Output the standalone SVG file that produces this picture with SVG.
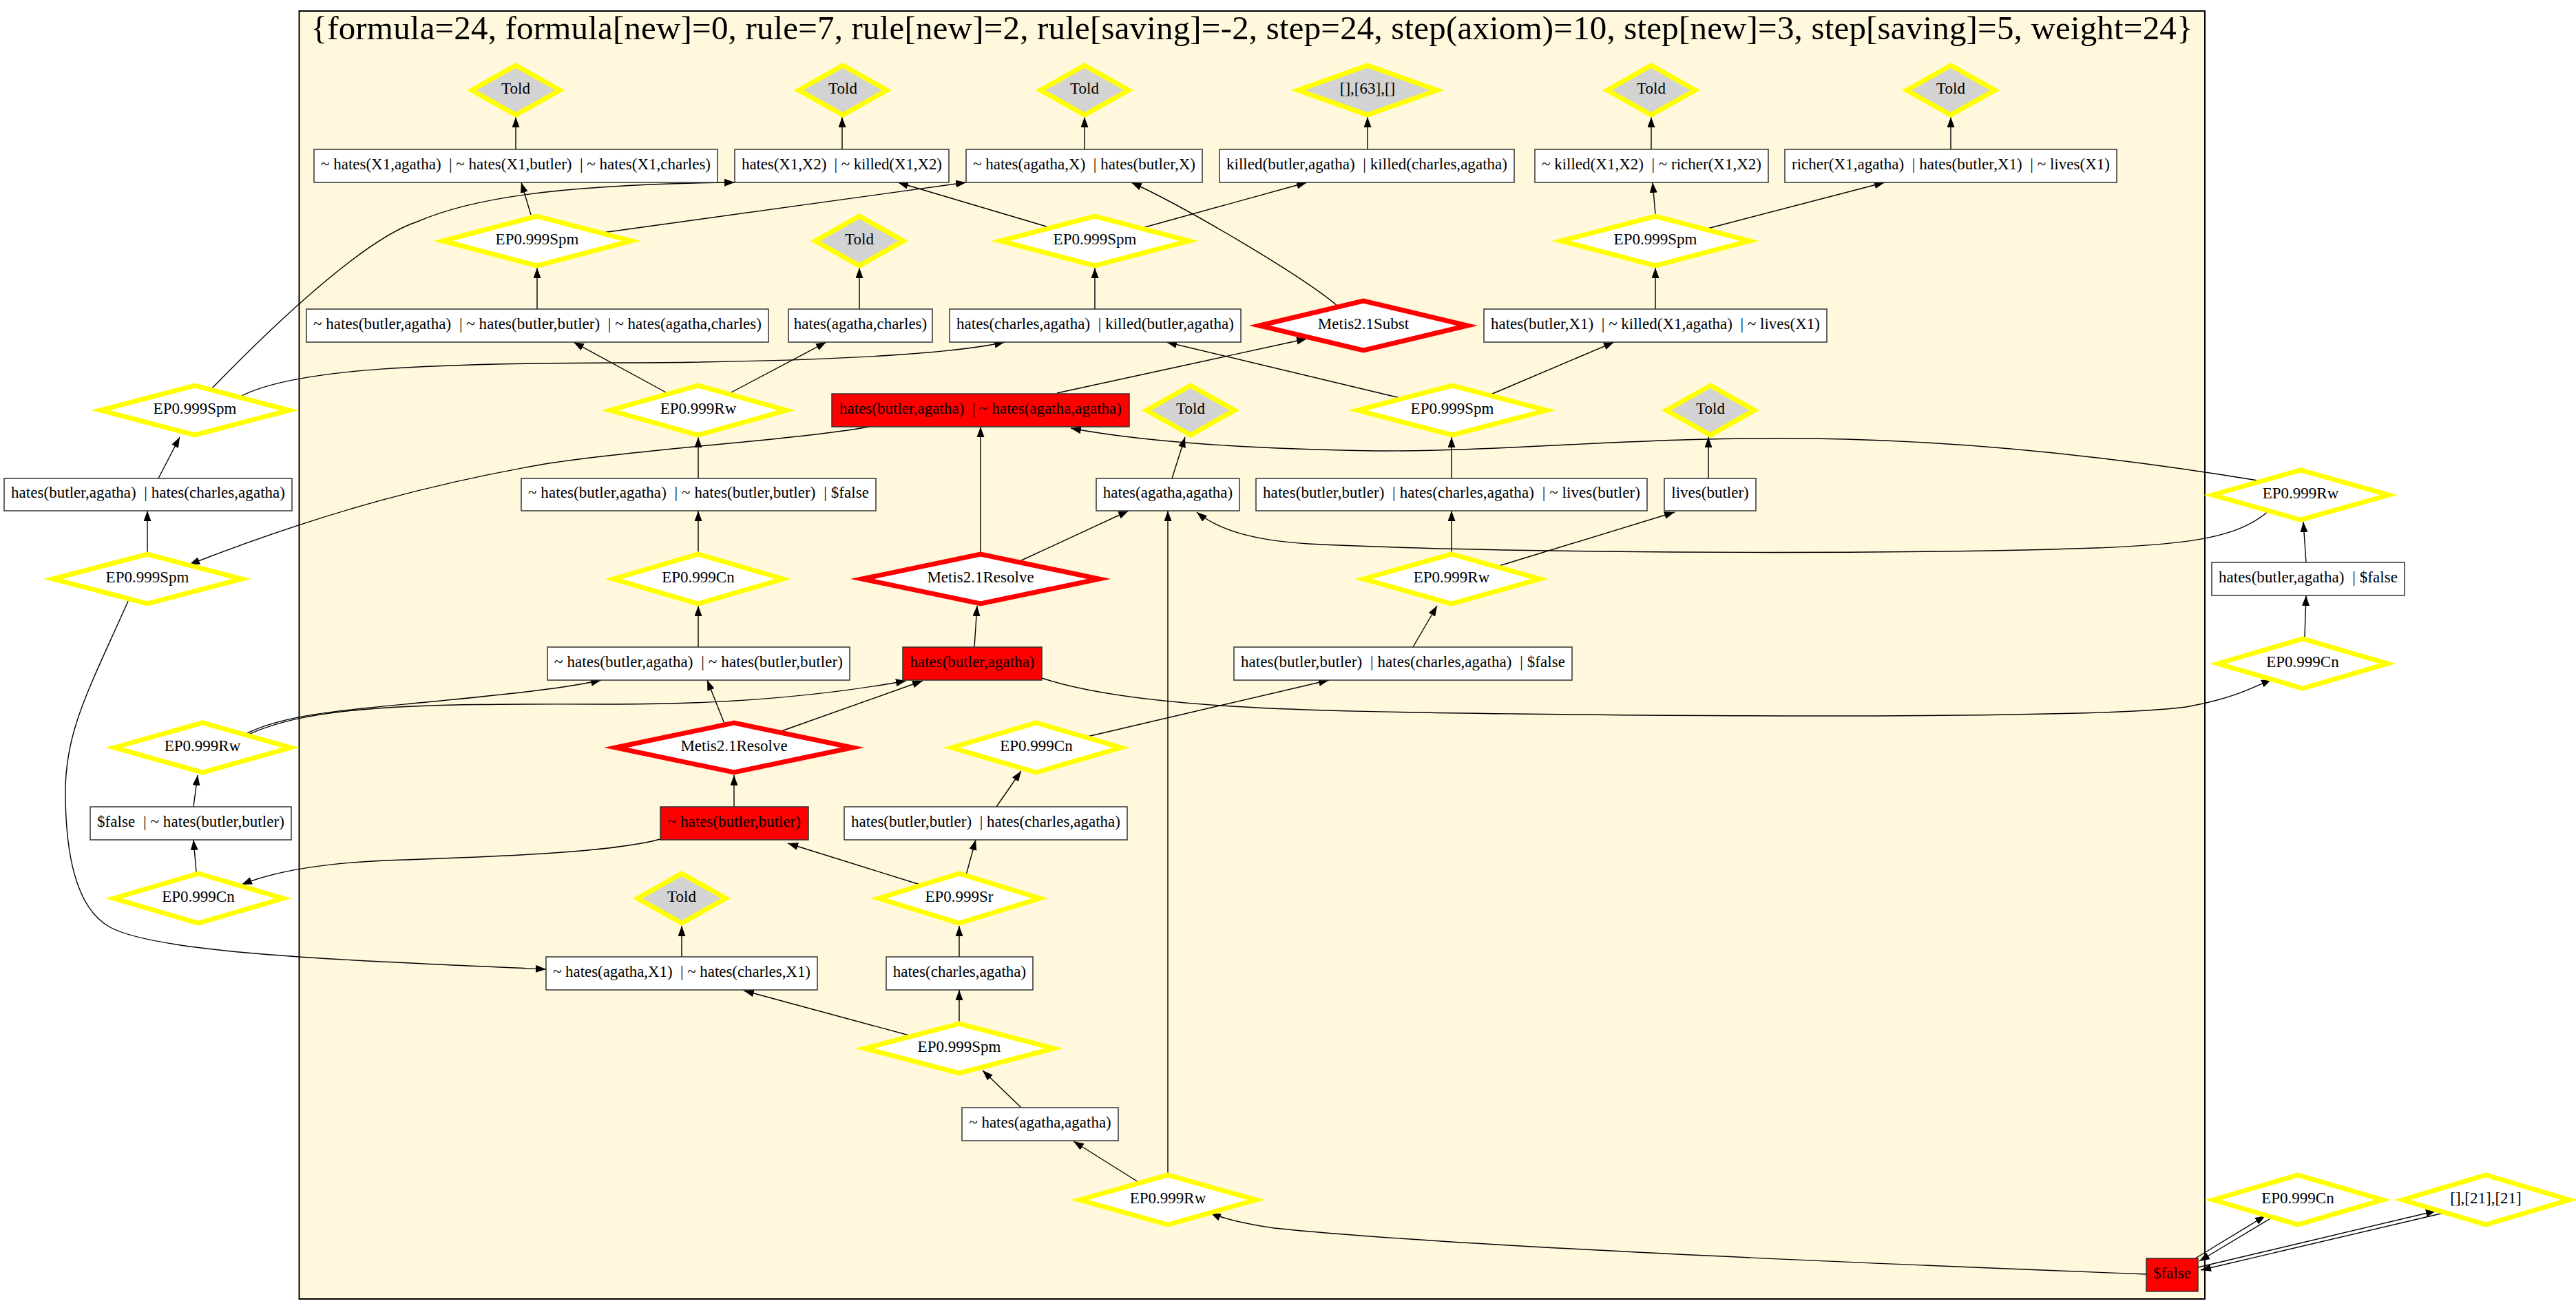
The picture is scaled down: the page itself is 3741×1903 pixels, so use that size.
<svg xmlns="http://www.w3.org/2000/svg" width="3741" height="1903" viewBox="0 0 3741 1903">
<style>
.bx{fill:#fff;stroke:#333;stroke-width:1.5}
.rd{fill:#f00;stroke:#333;stroke-width:1.5}
.dy{fill:#fff;stroke:#ff0;stroke-width:7;stroke-miterlimit:10}
.dg{fill:#d3d3d3;stroke:#ff0;stroke-width:7;stroke-miterlimit:10}
.dr{fill:#fff;stroke:#f00;stroke-width:7;stroke-miterlimit:10}
text{font-family:"Liberation Serif","Times New Roman",serif;font-size:23px;text-anchor:middle;fill:#000;white-space:pre}
.e{fill:none;stroke:#000;stroke-width:1.4;marker-end:url(#ah)}
</style>
<defs>
<marker id="ah" markerUnits="userSpaceOnUse" markerWidth="15" markerHeight="11" refX="15" refY="5.5" orient="auto"><path d="M0,0 L15,5.5 L0,11 z" fill="#000"/></marker>
</defs>
<rect width="3741" height="1903" fill="#fff"/>
<g id="cluster">
<rect x="434.5" y="16" width="2767.5" height="1871" fill="#fff8dc" stroke="#000" stroke-width="2"/>
<text x="1818" y="57" style="font-size:49px" textLength="2733" lengthAdjust="spacing">{formula=24, formula[new]=0, rule=7, rule[new]=2, rule[saving]=-2, step=24, step(axiom)=10, step[new]=3, step[saving]=5, weight=24}</text>
</g>
<g id="edges">
<path class="e" d="M749,217 L749,170"/>
<path class="e" d="M1223,217 L1223,170"/>
<path class="e" d="M1575,217 L1575,170"/>
<path class="e" d="M1986,217 L1986,170"/>
<path class="e" d="M2398,217 L2398,170"/>
<path class="e" d="M2833,217 L2833,170"/>
<path class="e" d="M771,312 L757,265"/>
<path class="e" d="M875,338 L1403,265"/>
<path class="e" d="M308,564 C370,500 520,350 606,322 C680,290 800,268 1067,265"/>
<path class="e" d="M1523,330 L1304,265"/>
<path class="e" d="M1659,331 L1898,265"/>
<path class="e" d="M1590,449 L1590,389"/>
<path class="e" d="M1248,449 L1248,389"/>
<path class="e" d="M1942,444 C1890,400 1720,300 1643,265"/>
<path class="e" d="M2404,311 L2400,265"/>
<path class="e" d="M2476,333 L2737,265"/>
<path class="e" d="M2404,449 L2404,389"/>
<path class="e" d="M780,449 L780,389"/>
<path class="e" d="M969,571 L833,497"/>
<path class="e" d="M1060,571 L1200,497"/>
<path class="e" d="M351,575 C430,535 620,528 900,527 S1380,515 1459,497"/>
<path class="e" d="M1535,571 L1898,492"/>
<path class="e" d="M2033,578 L1694,497"/>
<path class="e" d="M2165,573 L2344,497"/>
<path class="e" d="M214,802 L214,742"/>
<path class="e" d="M230,695 L261,635"/>
<path class="e" d="M1262,620 C1150,640 950,650 797,673 C640,700 480,740 275,820"/>
<path class="e" d="M1014,695 L1014,635"/>
<path class="e" d="M1014,802 L1014,742"/>
<path class="e" d="M1014,940 L1014,880"/>
<path class="e" d="M1052,1051 L1027,988"/>
<path class="e" d="M1132,1063 L1340,989"/>
<path class="e" d="M359,1065 C420,1035 520,1030 640,1018 C740,1008 820,1000 873,988"/>
<path class="e" d="M359,1068 C450,1025 600,1022 877,1023 C1050,1024 1200,1010 1316,989"/>
<path class="e" d="M1424,802 L1424,620"/>
<path class="e" d="M1479,816 L1639,742"/>
<path class="e" d="M1415,940 L1419,880"/>
<path class="e" d="M1702,695 L1721,635"/>
<path class="e" d="M3279,698 C3200,685 2950,645 2680,638 C2410,631 2200,656 2000,655 C1800,652 1650,640 1555,622"/>
<path class="e" d="M3295,742 C3240,790 3150,795 2890,800 C2500,806 2100,800 1900,790 C1820,785 1770,770 1738,744"/>
<path class="e" d="M2108,802 L2108,742"/>
<path class="e" d="M2108,695 L2108,635"/>
<path class="e" d="M2177,822 L2432,744"/>
<path class="e" d="M2481,695 L2481,635"/>
<path class="e" d="M2052,940 L2087,880"/>
<path class="e" d="M1513,985 C1650,1030 1900,1033 2200,1037 C2700,1043 3100,1040 3180,1026 C3240,1015 3270,1000 3299,987"/>
<path class="e" d="M1575,1071 L1930,988"/>
<path class="e" d="M1447,1172 L1483,1120"/>
<path class="e" d="M3347,925 L3349,865"/>
<path class="e" d="M3349,817 L3345,758"/>
<path class="e" d="M281,1172 L287,1126"/>
<path class="e" d="M285,1266 L281,1220"/>
<path class="e" d="M959,1219 C880,1240 700,1245 560,1250 C470,1254 400,1265 351,1285"/>
<path class="e" d="M1066,1172 L1066,1126"/>
<path class="e" d="M1336,1285 L1144,1225"/>
<path class="e" d="M1403,1271 L1417,1220"/>
<path class="e" d="M1393,1390 L1393,1345"/>
<path class="e" d="M1393,1484 L1393,1438"/>
<path class="e" d="M1324,1505 L1080,1439"/>
<path class="e" d="M990,1390 L990,1345"/>
<path class="e" d="M187,871 C130,1000 95,1060 95,1150 C95,1240 110,1320 160,1347 C230,1385 500,1395 793,1408"/>
<path class="e" d="M1483,1609 L1427,1555"/>
<path class="e" d="M1653,1717 L1559,1658"/>
<path class="e" d="M1696,1704 L1696,742"/>
<path class="e" d="M3117,1851 C2700,1835 2100,1810 1850,1784 C1810,1778 1780,1772 1758,1762"/>
<path class="e" d="M3188,1828 L3290,1766"/>
<path class="e" d="M3299,1769 L3194,1832"/>
<path class="e" d="M3192,1841 L3538,1759"/>
<path class="e" d="M3549,1762 L3196,1845"/>
</g>
<g id="told1"><polygon class="dg" points="685,131 749,95 813,131 749,167"/><text x="749" y="136">Told</text></g>
<g id="told2"><polygon class="dg" points="1160,131 1224,95 1288,131 1224,167"/><text x="1224" y="136">Told</text></g>
<g id="told3"><polygon class="dg" points="1511,131 1575,95 1639,131 1575,167"/><text x="1575" y="136">Told</text></g>
<g id="told4"><polygon class="dg" points="2334,131 2398,95 2462,131 2398,167"/><text x="2398" y="136">Told</text></g>
<g id="told5"><polygon class="dg" points="2769,131 2833,95 2897,131 2833,167"/><text x="2833" y="136">Told</text></g>
<g id="told6"><polygon class="dg" points="1184,350 1248,314 1312,350 1248,386"/><text x="1248" y="355">Told</text></g>
<g id="told7"><polygon class="dg" points="1665,596 1729,560 1793,596 1729,632"/><text x="1729" y="601">Told</text></g>
<g id="told8"><polygon class="dg" points="2420,596 2484,560 2548,596 2484,632"/><text x="2484" y="601">Told</text></g>
<g id="told9"><polygon class="dg" points="926,1305 990,1269 1054,1305 990,1341"/><text x="990" y="1310">Told</text></g>
<g id="ref63"><polygon class="dg" points="1885,131 1986,95 2087,131 1986,167"/><text x="1986" y="136">[],[63],[]</text></g>
<g id="spm1"><polygon class="dy" points="643,350 780,314 917,350 780,386"/><text x="780" y="355">EP0.999Spm</text></g>
<g id="spm2"><polygon class="dy" points="1453,350 1590,314 1727,350 1590,386"/><text x="1590" y="355">EP0.999Spm</text></g>
<g id="spm3"><polygon class="dy" points="2267,350 2404,314 2541,350 2404,386"/><text x="2404" y="355">EP0.999Spm</text></g>
<g id="spm4"><polygon class="dy" points="146,596 283,560 420,596 283,632"/><text x="283" y="601">EP0.999Spm</text></g>
<g id="spm5"><polygon class="dy" points="1972,596 2109,560 2246,596 2109,632"/><text x="2109" y="601">EP0.999Spm</text></g>
<g id="spm6"><polygon class="dy" points="77,841 214,805 351,841 214,877"/><text x="214" y="846">EP0.999Spm</text></g>
<g id="spm7"><polygon class="dy" points="1256,1523 1393,1487 1530,1523 1393,1559"/><text x="1393" y="1528">EP0.999Spm</text></g>
<g id="rw1"><polygon class="dy" points="886,596 1014,560 1142,596 1014,632"/><text x="1014" y="601">EP0.999Rw</text></g>
<g id="rw2"><polygon class="dy" points="1980,841 2108,805 2236,841 2108,877"/><text x="2108" y="846">EP0.999Rw</text></g>
<g id="rw3"><polygon class="dy" points="3213,719 3341,683 3469,719 3341,755"/><text x="3341" y="724">EP0.999Rw</text></g>
<g id="rw4"><polygon class="dy" points="166,1086 294,1050 422,1086 294,1122"/><text x="294" y="1091">EP0.999Rw</text></g>
<g id="rw5"><polygon class="dy" points="1568,1743 1696,1707 1824,1743 1696,1779"/><text x="1696" y="1748">EP0.999Rw</text></g>
<g id="cn1"><polygon class="dy" points="891,841 1014,805 1137,841 1014,877"/><text x="1014" y="846">EP0.999Cn</text></g>
<g id="cn2"><polygon class="dy" points="3221,964 3344,928 3467,964 3344,1000"/><text x="3344" y="969">EP0.999Cn</text></g>
<g id="cn3"><polygon class="dy" points="1382,1086 1505,1050 1628,1086 1505,1122"/><text x="1505" y="1091">EP0.999Cn</text></g>
<g id="cn4"><polygon class="dy" points="165,1305 288,1269 411,1305 288,1341"/><text x="288" y="1310">EP0.999Cn</text></g>
<g id="cn5"><polygon class="dy" points="3214,1743 3337,1707 3460,1743 3337,1779"/><text x="3337" y="1748">EP0.999Cn</text></g>
<g id="sr1"><polygon class="dy" points="1276,1305 1393,1269 1510,1305 1393,1341"/><text x="1393" y="1310">EP0.999Sr</text></g>
<g id="subst"><polygon class="dr" points="1829,473 1980,437 2131,473 1980,509"/><text x="1980" y="478">Metis2.1Subst</text></g>
<g id="resolve1"><polygon class="dr" points="1252,841 1424,805 1596,841 1424,877"/><text x="1424" y="846">Metis2.1Resolve</text></g>
<g id="resolve2"><polygon class="dr" points="894,1086 1066,1050 1238,1086 1066,1122"/><text x="1066" y="1091">Metis2.1Resolve</text></g>
<g id="ref21"><polygon class="dy" points="3489,1743 3610,1707 3731,1743 3610,1779"/><text x="3610" y="1748">[],[21],[21]</text></g>
<g id="a1"><rect class="bx" x="456" y="217" width="586" height="48"/><text x="749" y="246" textLength="566" lengthAdjust="spacing">~ hates(X1,agatha)  | ~ hates(X1,butler)  | ~ hates(X1,charles)</text></g>
<g id="a2"><rect class="bx" x="1067" y="217" width="311" height="48"/><text x="1222.5" y="246" textLength="291" lengthAdjust="spacing">hates(X1,X2)  | ~ killed(X1,X2)</text></g>
<g id="a3"><rect class="bx" x="1403" y="217" width="343" height="48"/><text x="1574.5" y="246" textLength="323" lengthAdjust="spacing">~ hates(agatha,X)  | hates(butler,X)</text></g>
<g id="a4"><rect class="bx" x="1771" y="217" width="428" height="48"/><text x="1985" y="246" textLength="408" lengthAdjust="spacing">killed(butler,agatha)  | killed(charles,agatha)</text></g>
<g id="a5"><rect class="bx" x="2229" y="217" width="339" height="48"/><text x="2398.5" y="246" textLength="319" lengthAdjust="spacing">~ killed(X1,X2)  | ~ richer(X1,X2)</text></g>
<g id="a6"><rect class="bx" x="2592" y="217" width="482" height="48"/><text x="2833" y="246" textLength="462" lengthAdjust="spacing">richer(X1,agatha)  | hates(butler,X1)  | ~ lives(X1)</text></g>
<g id="b1"><rect class="bx" x="445" y="449" width="671" height="48"/><text x="780.5" y="478" textLength="651" lengthAdjust="spacing">~ hates(butler,agatha)  | ~ hates(butler,butler)  | ~ hates(agatha,charles)</text></g>
<g id="b2"><rect class="bx" x="1145" y="449" width="209" height="48"/><text x="1249.5" y="478">hates(agatha,charles)</text></g>
<g id="b3"><rect class="bx" x="1379" y="449" width="423" height="48"/><text x="1590.5" y="478" textLength="403" lengthAdjust="spacing">hates(charles,agatha)  | killed(butler,agatha)</text></g>
<g id="b4"><rect class="bx" x="2155" y="449" width="498" height="48"/><text x="2404" y="478" textLength="478" lengthAdjust="spacing">hates(butler,X1)  | ~ killed(X1,agatha)  | ~ lives(X1)</text></g>
<g id="c1"><rect class="rd" x="1208" y="572" width="432" height="48"/><text x="1424" y="601" textLength="410" lengthAdjust="spacing">hates(butler,agatha)  | ~ hates(agatha,agatha)</text></g>
<g id="d0"><rect class="bx" x="6" y="695" width="418" height="47"/><text x="215" y="723" textLength="398" lengthAdjust="spacing">hates(butler,agatha)  | hates(charles,agatha)</text></g>
<g id="d1"><rect class="bx" x="757" y="695" width="515" height="47"/><text x="1014.5" y="723" textLength="495" lengthAdjust="spacing">~ hates(butler,agatha)  | ~ hates(butler,butler)  | $false</text></g>
<g id="d2"><rect class="bx" x="1592" y="695" width="208" height="47"/><text x="1696" y="723">hates(agatha,agatha)</text></g>
<g id="d3"><rect class="bx" x="1824" y="695" width="568" height="47"/><text x="2108" y="723" textLength="548" lengthAdjust="spacing">hates(butler,butler)  | hates(charles,agatha)  | ~ lives(butler)</text></g>
<g id="d4"><rect class="bx" x="2417" y="695" width="133" height="47"/><text x="2483.5" y="723">lives(butler)</text></g>
<g id="r1"><rect class="bx" x="3212" y="817" width="280" height="48"/><text x="3352" y="846" textLength="260" lengthAdjust="spacing">hates(butler,agatha)  | $false</text></g>
<g id="e1"><rect class="bx" x="795" y="940" width="439" height="48"/><text x="1014.5" y="969" textLength="419" lengthAdjust="spacing">~ hates(butler,agatha)  | ~ hates(butler,butler)</text></g>
<g id="e2"><rect class="rd" x="1311" y="940" width="202" height="48"/><text x="1412" y="969">hates(butler,agatha)</text></g>
<g id="e3"><rect class="bx" x="1792" y="940" width="491" height="48"/><text x="2037.5" y="969" textLength="471" lengthAdjust="spacing">hates(butler,butler)  | hates(charles,agatha)  | $false</text></g>
<g id="f0"><rect class="bx" x="131" y="1172" width="292" height="48"/><text x="277" y="1201" textLength="272" lengthAdjust="spacing">$false  | ~ hates(butler,butler)</text></g>
<g id="f1"><rect class="rd" x="959" y="1172" width="215" height="48"/><text x="1066.5" y="1201">~ hates(butler,butler)</text></g>
<g id="f2"><rect class="bx" x="1226" y="1172" width="411" height="48"/><text x="1431.5" y="1201" textLength="391" lengthAdjust="spacing">hates(butler,butler)  | hates(charles,agatha)</text></g>
<g id="g1"><rect class="bx" x="793" y="1390" width="394" height="48"/><text x="990" y="1419" textLength="374" lengthAdjust="spacing">~ hates(agatha,X1)  | ~ hates(charles,X1)</text></g>
<g id="g2"><rect class="bx" x="1287" y="1390" width="213" height="48"/><text x="1393.5" y="1419">hates(charles,agatha)</text></g>
<g id="h1"><rect class="bx" x="1397" y="1609" width="227" height="48"/><text x="1510.5" y="1638">~ hates(agatha,agatha)</text></g>
<g id="false"><rect class="rd" x="3117" y="1828" width="75" height="48"/><text x="3154.5" y="1857">$false</text></g>
</svg>
